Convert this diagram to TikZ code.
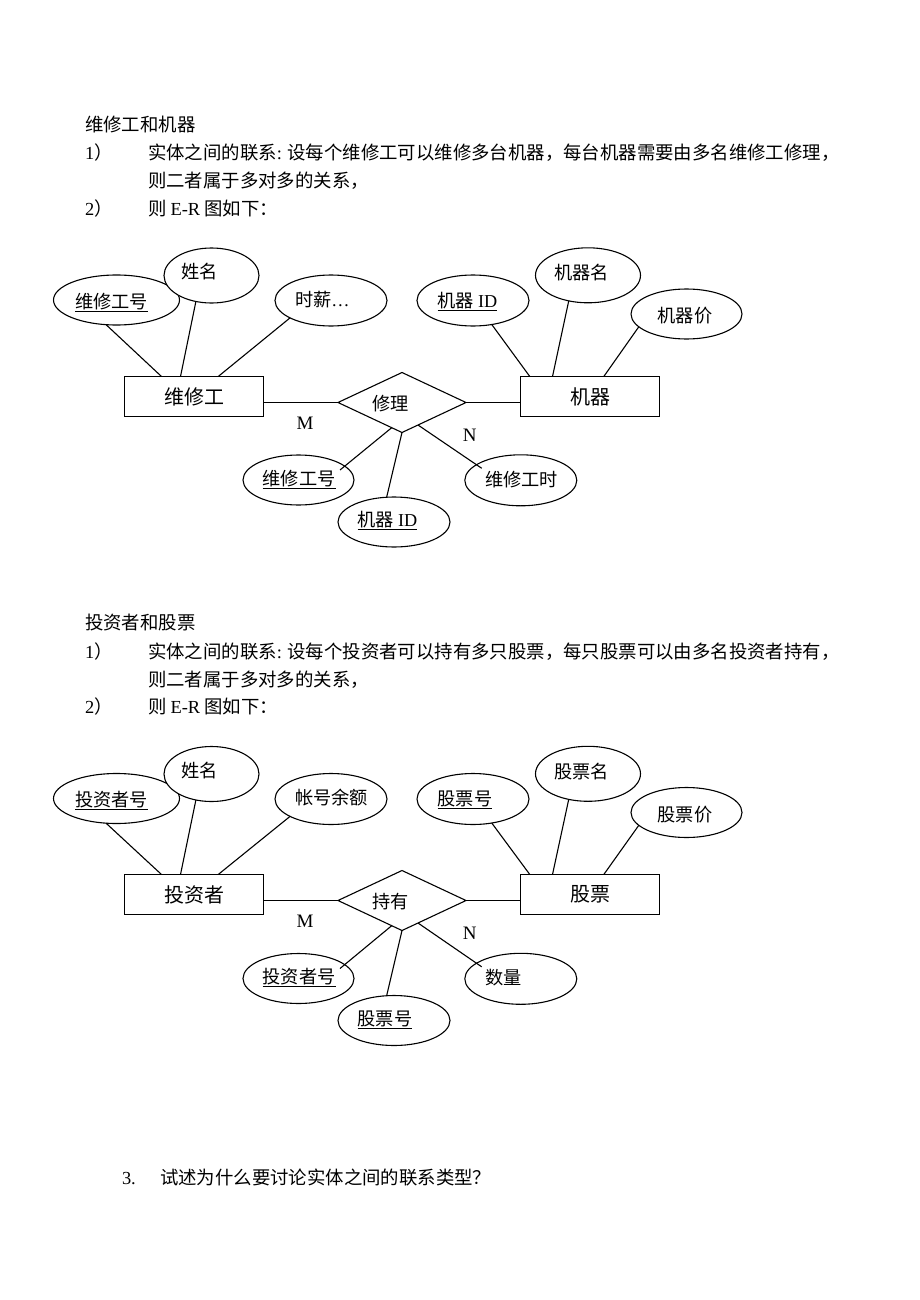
\documentclass[tikz,border=0pt]{standalone}
\usepackage{fontspec}
\setmainfont{Noto Sans CJK SC}
\newfontfamily\lat{Liberation Serif}
\usetikzlibrary{shapes.geometric,calc}
\begin{document}
\begin{tikzpicture}[x=1pt,y=-1pt,
  every node/.style={inner sep=0pt,outer sep=0pt},
  conn/.style={line width=1.1pt},
  attr/.style={draw,ellipse,line width=1.1pt,fill=white},
  entity/.style={draw,rectangle,line width=1.1pt,minimum width=139pt,minimum height=40pt,font=\fontsize{20}{24}\selectfont},
  rel/.style={draw,diamond,line width=1.1pt,minimum width=128pt,minimum height=60pt},
  txt/.style={anchor=base west,font=\fontsize{18.2}{22}\selectfont},
  body/.style={anchor=base west,font=\fontsize{18.4}{22}\selectfont},
  card/.style={anchor=center,font=\lat\fontsize{19}{22}\selectfont}]
\useasboundingbox[fill=white] (0,0) rectangle (920,1300);

% ---------- block 1 text ----------
\node[body] (h1) at (85,131.5) {维修工和机器};
\node[body] (i11) at (85,160) {{\lat 1}）};
\node[body] (l11) at (148,160) {实体之间的联系{\lat :} 设每个维修工可以维修多台机器，每台机器需要由多名维修工修理，};
\node[body] (l12) at (148,188) {则二者属于多对多的关系，};
\node[body] (i12) at (85,215) {{\lat 2}）};
\node[body] (l13) at (148,215) {则 {\lat E-R} 图如下：};

% ---------- diagram 1 ----------
\node[attr,minimum width=126pt,minimum height=50pt] (k1) at (116.5,300) {};
\node[attr,minimum width=95pt,minimum height=55pt] (n1) at (211.5,275.5) {};
\node[attr,minimum width=112pt,minimum height=51pt] (s1) at (331,300.5) {};
\node[entity] (E1) at (194,396.5) {维修工};
\node[rel] (R1) at (402,402.5) {};
\node[entity] (F1) at (590,396.5) {机器};
\node[attr,minimum width=112pt,minimum height=51pt] (p1) at (473,300.5) {};
\node[attr,minimum width=105pt,minimum height=55pt] (q1) at (588,275.3) {};
\node[attr,minimum width=111pt,minimum height=50pt] (r1) at (686.5,314) {};
\node[attr,minimum width=111pt,minimum height=50pt] (b1) at (298.5,480) {};
\node[attr,minimum width=112pt,minimum height=50pt] (c1) at (394,522) {};
\node[attr,minimum width=112pt,minimum height=51pt] (d1) at (520.8,480.3) {};

\draw[conn] (k1.247) -- ($(E1.north west)+(37,0)$);
\draw[conn] (n1.239) -- ($(E1.north west)+(56,0)$);
\draw[conn] (s1.203) -- ($(E1.north west)+(93.7,0)$);
\draw[conn] (R1.west) -- (R1.west -| E1.east);
\draw[conn] (R1.east) -- (R1.east -| F1.west);
\draw[conn] (p1.308) -- ($(F1.north west)+(9.3,0)$);
\draw[conn] (q1.233) -- ($(F1.north west)+(32,0)$);
\draw[conn] (r1.195) -- ($(F1.north west)+(83.3,0)$);
\draw[conn] ($(R1.center)+(-10.3,25.2)$) -- ($(b1.center)+(41.5,-10)$);
\draw[conn] (R1.south) -- ($(c1.center)+(-7.3,-25)$);
\draw[conn] ($(R1.center)+(16,22.5)$) -- ($(d1.center)+(-39.1,-12)$);

\node[txt] (tk1) at (75,308) {\underline{维修工号}};
\node[txt] (tn1) at (181.7,278.7) {姓名};
\node[txt] (ts1) at (295,306) {时薪{\lat …}};
\node[txt] (tr1) at (372.3,410.3) {修理};
\node[card] (m1) at (305,423) {M};
\node[card] (nn1) at (469.7,435) {N};
\node[txt] (tb1) at (262.7,485) {\underline{维修工号}};
\node[txt] (tc1) at (357.7,526.5) {\underline{机器 {\lat ID}}};
\node[txt] (td1) at (485,486) {维修工时};
\node[txt] (tp1) at (437.7,307) {\underline{机器 {\lat ID}}};
\node[txt] (tq1) at (554,279.5) {机器名};
\node[txt] (tq1b) at (657.7,322.5) {机器价};

% ---------- block 2 text ----------
\node[body] (h2) at (85,629.5) {投资者和股票};
\node[body] (i21) at (85,658) {{\lat 1}）};
\node[body] (l21) at (148,658) {实体之间的联系{\lat :} 设每个投资者可以持有多只股票，每只股票可以由多名投资者持有，};
\node[body] (l22) at (148,686) {则二者属于多对多的关系，};
\node[body] (i22) at (85,713) {{\lat 2}）};
\node[body] (l23) at (148,713) {则 {\lat E-R} 图如下：};

% ---------- diagram 2 ----------
\node[attr,minimum width=126pt,minimum height=50pt] (k2) at (116.5,798.5) {};
\node[attr,minimum width=95pt,minimum height=55pt] (n2) at (211.5,774) {};
\node[attr,minimum width=112pt,minimum height=51pt] (s2) at (331,799) {};
\node[entity] (E2) at (194,894.5) {投资者};
\node[rel] (R2) at (402,900.5) {};
\node[entity] (F2) at (590,894.5) {股票};
\node[attr,minimum width=112pt,minimum height=51pt] (p2) at (473,799) {};
\node[attr,minimum width=105pt,minimum height=55pt] (q2) at (588,773.8) {};
\node[attr,minimum width=111pt,minimum height=50pt] (r2) at (686.5,812.5) {};
\node[attr,minimum width=111pt,minimum height=50pt] (b2) at (298.5,978.5) {};
\node[attr,minimum width=112pt,minimum height=50pt] (c2) at (394,1020.5) {};
\node[attr,minimum width=112pt,minimum height=51pt] (d2) at (520.8,978.8) {};

\draw[conn] (k2.247) -- ($(E2.north west)+(37,0)$);
\draw[conn] (n2.239) -- ($(E2.north west)+(56,0)$);
\draw[conn] (s2.203) -- ($(E2.north west)+(93.7,0)$);
\draw[conn] (R2.west) -- (R2.west -| E2.east);
\draw[conn] (R2.east) -- (R2.east -| F2.west);
\draw[conn] (p2.308) -- ($(F2.north west)+(9.3,0)$);
\draw[conn] (q2.233) -- ($(F2.north west)+(32,0)$);
\draw[conn] (r2.195) -- ($(F2.north west)+(83.3,0)$);
\draw[conn] ($(R2.center)+(-10.3,25.2)$) -- ($(b2.center)+(41.5,-10)$);
\draw[conn] (R2.south) -- ($(c2.center)+(-7.3,-25)$);
\draw[conn] ($(R2.center)+(16,22.5)$) -- ($(d2.center)+(-39.1,-12)$);

\node[txt] (tk2) at (75,806.5) {\underline{投资者号}};
\node[txt] (tn2) at (181.7,777.2) {姓名};
\node[txt] (ts2) at (295,804.5) {帐号余额};
\node[txt] (tr2) at (372.3,908.8) {持有};
\node[card] (m2) at (305,921.5) {M};
\node[card] (nn2) at (469.7,933.5) {N};
\node[txt] (tb2) at (262.7,983.5) {\underline{投资者号}};
\node[txt] (tc2) at (357.7,1025) {\underline{股票号}};
\node[txt] (td2) at (485,984.5) {数量};
\node[txt] (tp2) at (437.7,805.5) {\underline{股票号}};
\node[txt] (tq2) at (554,778) {股票名};
\node[txt] (tr2b) at (657.7,821) {股票价};

% ---------- bottom ----------
\node[body] (q3n) at (122,1184) {{\lat 3.}};
\node[body] (q3) at (160,1184) {试述为什么要讨论实体之间的联系类型？};
\end{tikzpicture}
\end{document}
